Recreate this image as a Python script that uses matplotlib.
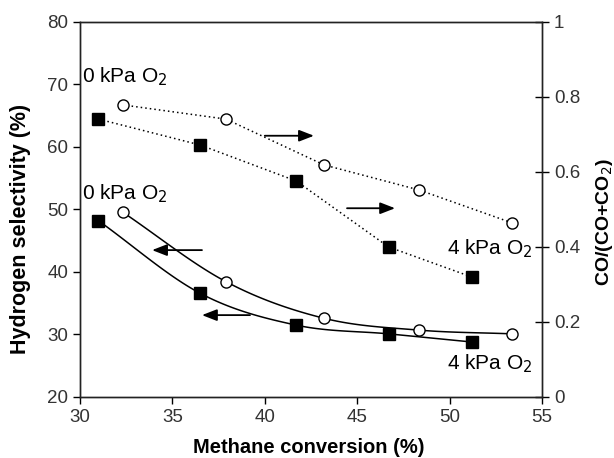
import numpy as np
import matplotlib.pyplot as plt

plt.rcParams['font.family'] = ['Liberation Sans', 'DejaVu Sans']

# CO/(CO+CO2) ratio (right axis), dotted lines
conv_open_ratio = [32.3, 37.9, 43.2, 48.35, 53.4]
ratio_open = [0.779, 0.741, 0.619, 0.552, 0.464]
conv_sq_ratio = [31.0, 36.5, 41.7, 46.7, 51.2]
ratio_sq = [0.741, 0.672, 0.576, 0.40, 0.32]

# hydrogen selectivity (left axis), smooth solid lines
conv_open_sel = [32.3, 37.9, 43.2, 48.35, 53.4]
sel_open = [49.6, 38.45, 32.6, 30.7, 30.1]
conv_sq_sel = [31.0, 36.5, 41.7, 46.7, 51.2]
sel_sq = [48.2, 36.6, 31.5, 30.1, 28.8]


def smooth(x, y, n=30):
    # Catmull-Rom spline through the points (like a spreadsheet "smoothed line")
    x = np.asarray(x, float)
    y = np.asarray(y, float)
    px = np.concatenate([[2 * x[0] - x[1]], x, [2 * x[-1] - x[-2]]])
    py = np.concatenate([[2 * y[0] - y[1]], y, [2 * y[-1] - y[-2]]])
    t = np.linspace(0, 1, n)
    xs, ys = [], []
    for i in range(1, len(px) - 2):
        for p, out in ((px, xs), (py, ys)):
            p0, p1, p2, p3 = p[i - 1], p[i], p[i + 1], p[i + 2]
            out.extend(0.5 * (2 * p1 + (-p0 + p2) * t
                              + (2 * p0 - 5 * p1 + 4 * p2 - p3) * t ** 2
                              + (-p0 + 3 * p1 - 3 * p2 + p3) * t ** 3))
    return xs, ys


fig = plt.figure(figsize=(6.14, 4.58), dpi=100)
ax = fig.add_axes([0.1303, 0.1332, 0.7524, 0.8188])
ax2 = ax.twinx()

ms = 8
# selectivity curves
xs, ys = smooth(conv_open_sel, sel_open)
ax.plot(xs, ys, color='black', lw=1.1)
ax.plot(conv_open_sel, sel_open, 'o', ms=ms, mfc='white', mec='black', mew=1.0)
xs, ys = smooth(conv_sq_sel, sel_sq)
ax.plot(xs, ys, color='black', lw=1.1)
ax.plot(conv_sq_sel, sel_sq, 's', ms=ms, mfc='black', mec='black')

# ratio curves
ax2.plot(conv_open_ratio, ratio_open, ls=(0, (1, 2)), color='black', lw=1.1,
         marker='o', ms=ms, mfc='white', mec='black', mew=1.0)
ax2.plot(conv_sq_ratio, ratio_sq, ls=(0, (1, 2)), color='black', lw=1.1,
         marker='s', ms=ms, mfc='black', mec='black')

ax.set_xlim(30, 55)
ax.set_ylim(20, 80)
ax2.set_ylim(0, 1)
ax.set_xticks([30, 35, 40, 45, 50, 55])
ax.set_yticks([20, 30, 40, 50, 60, 70, 80])
ax2.set_yticks([0, 0.2, 0.4, 0.6, 0.8, 1])
ax2.set_yticklabels(['0', '0.2', '0.4', '0.6', '0.8', '1'])

tc = '#333333'
ax.tick_params(axis='both', direction='out', length=5, width=1, labelsize=13.5,
               colors='black', labelcolor=tc, top=False)
ax2.tick_params(axis='y', direction='inout', length=10, width=1, labelsize=13.5,
                labelcolor=tc)
for a in (ax, ax2):
    for s in a.spines.values():
        s.set_linewidth(1.0)
        s.set_color('#222222')

ax.set_xlabel('Methane conversion (%)', fontsize=14.5, fontweight='bold')
ax.set_ylabel('Hydrogen selectivity (%)', fontsize=15.5, fontweight='bold')
ax2.set_ylabel('CO/(CO+CO$_2$)', fontsize=14, fontweight='bold')
ax.xaxis.set_label_coords(0.4946, -0.109)
ax.yaxis.set_label_coords(-0.106, 0.449)
ax2.yaxis.set_label_coords(1.113, 0.467)

# arrows
arr = dict(arrowstyle='-|>,head_length=0.9,head_width=0.35', color='black', lw=1.3,
           shrinkA=0, shrinkB=0)
ax.annotate('', xy=(42.66, 61.8), xytext=(40.0, 61.8), arrowprops=arr)
ax.annotate('', xy=(47.05, 50.2), xytext=(44.45, 50.2), arrowprops=arr)
ax.annotate('', xy=(33.9, 43.5), xytext=(36.6, 43.5), arrowprops=arr)
ax.annotate('', xy=(36.6, 33.1), xytext=(39.2, 33.1), arrowprops=arr)

fs = 15
ax.text(30.1, 71.2, '0 kPa O$_2$', fontsize=fs, va='center', ha='left')
ax.text(30.1, 52.6, '0 kPa O$_2$', fontsize=fs, va='center', ha='left')
ax.text(54.5, 43.8, '4 kPa O$_2$', fontsize=fs, va='center', ha='right')
ax.text(54.5, 25.4, '4 kPa O$_2$', fontsize=fs, va='center', ha='right')

fig.savefig('out.png', dpi=100)
